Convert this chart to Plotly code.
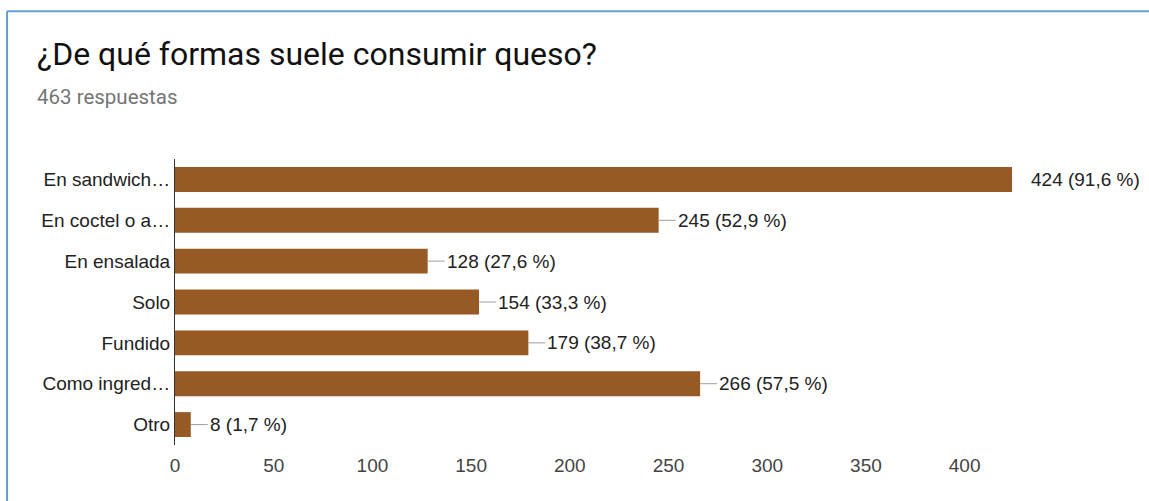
import plotly.graph_objects as go

categories = ["En sandwich…", "En coctel o a…", "En ensalada", "Solo", "Fundido", "Como ingred…", "Otro"]
counts = [424, 245, 128, 154, 179, 266, 8]
percents = ["91,6", "52,9", "27,6", "33,3", "38,7", "57,5", "1,7"]
x_ticks = [0, 50, 100, 150, 200, 250, 300, 350, 400]
title_text = "¿De qué formas suele consumir queso?"
subtitle_text = "463 respuestas"

BAR_COLOR = "#975a24"
FONT = "Liberation Sans, Arial, sans-serif"
FS = 19

fig = go.Figure()
fig.add_trace(go.Bar(
    x=counts, y=categories, orientation="h",
    marker=dict(color=BAR_COLOR, line=dict(width=0)),
    width=0.61, hoverinfo="skip",
))

shapes = []
annotations = []
vmax = max(counts)
for cat, v, p in zip(categories, counts, percents):
    lead = 3 if v == vmax else 17
    shapes.append(dict(type="line", xref="x", yref="y", xsizemode="pixel",
                       xanchor=v, x0=0, x1=lead, y0=cat, y1=cat,
                       line=dict(color="#9e9e9e", width=1)))
    annotations.append(dict(x=v, y=cat, xref="x", yref="y", text=f"{v} ({p} %)",
                            showarrow=False, xanchor="left", yanchor="middle",
                            xshift=17, font=dict(family=FONT, size=FS, color="#222222")))

# frame lines (top and left) of the card
shapes.append(dict(type="line", xref="paper", yref="paper", x0=-0.2007, x1=1.2, y0=1.5165, y1=1.5165,
                   line=dict(color="#6a9fd4", width=2)))
shapes.append(dict(type="line", xref="paper", yref="paper", x0=-0.2007, x1=-0.2007, y0=1.5165, y1=-0.3,
                   line=dict(color="#6a9fd4", width=2)))

annotations.append(dict(xref="paper", yref="paper", x=(35 - 175) / 837, y=(445 - 54) / 286,
                        text=title_text, showarrow=False, xanchor="left", yanchor="middle",
                        font=dict(family="Roboto, sans-serif", size=32, color="#111111")))
annotations.append(dict(xref="paper", yref="paper", x=(35 - 175) / 837, y=(445 - 97) / 286,
                        text=subtitle_text, showarrow=False, xanchor="left", yanchor="middle",
                        font=dict(family="Roboto, sans-serif", size=20.5, color="#757575")))

fig.update_layout(
    width=1149, height=501,
    margin=dict(l=175, r=137, t=159, b=56),
    paper_bgcolor="white", plot_bgcolor="white",
    showlegend=False,
    shapes=shapes, annotations=annotations,
    xaxis=dict(range=[0, vmax], tickvals=x_ticks, showgrid=False, zeroline=False,
               showline=False, ticks="outside", ticklen=3, tickcolor="rgba(0,0,0,0)",
               tickfont=dict(family=FONT, size=FS, color="#444444"), fixedrange=True),
    yaxis=dict(type="category", categoryorder="array", categoryarray=categories,
               range=[len(categories) - 0.5, -0.5], showgrid=False, zeroline=False,
               showline=True, linecolor="#333333", linewidth=1, ticks="",
               tickfont=dict(family=FONT, size=FS, color="#222222"), fixedrange=True),
)

fig.write_html("out.html", config={"displayModeBar": False},
               post_script="document.body.style.margin='0';")
